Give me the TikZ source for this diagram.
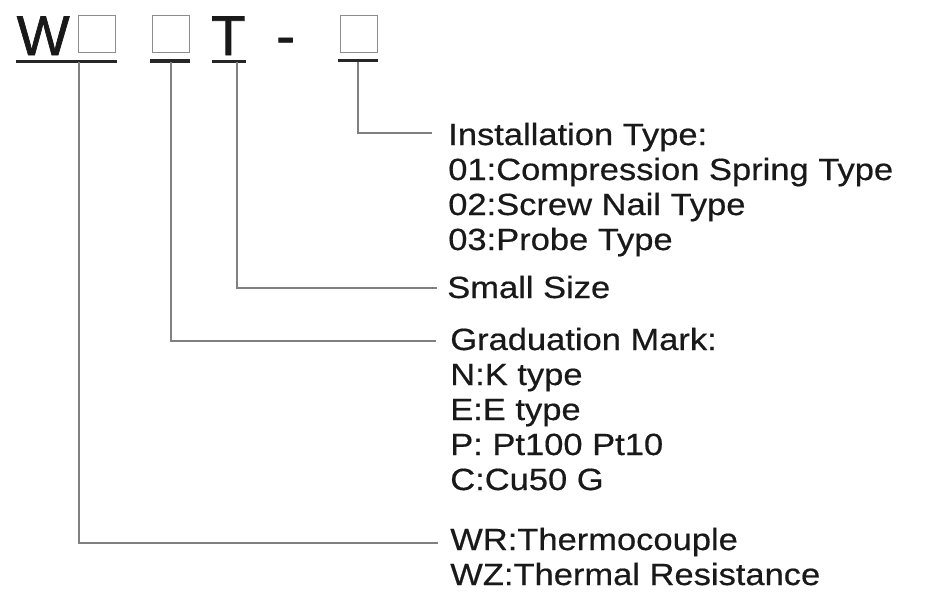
\documentclass[tikz,border=0pt]{standalone}
\usepackage{fontspec}
\setmainfont{Liberation Sans}[FakeStretch=1.125, FakeBold=0.5]
\newfontfamily\headfont{Liberation Sans}[FakeBold=1.2]

\begin{document}
\begin{tikzpicture}[x=0.75pt, y=-0.75pt, every node/.style={inner sep=0pt, anchor=base west, text=black!90, font=\fontsize{23}{26}\selectfont}]
	\useasboundingbox (0,0) rectangle (944,604);
	\tikzset{lead/.style={gray, line width=1.1pt}, uline/.style={black!85, line width=2.3pt}, slot/.style={draw=gray!90, line width=1.1pt, anchor=north west, minimum size=27.5pt}}
	% model code
	\node[font={\headfont\fontsize{42}{44}\selectfont}] (w) at (16.5,55) {W};
	\node[font={\headfont\fontsize{42}{44}\selectfont}] (t) at (211,55) {T};
	\node[font={\headfont\fontsize{42}{44}\selectfont}] (dash) at (276,55) {-};
	\foreach \n/\x in {b1/78, b2/152, b3/340} {\node[slot] (\n) at (\x,15) {};}
	\foreach \a/\b/\y in {16/117/61.5, 150/190/61, 212/246/61.5, 338/378/60.5} {\draw[uline] (\a,\y) -- (\b,\y);}
	\coordinate (u1) at (79,62); \coordinate (u2) at (171,62); \coordinate (u3) at (237,62); \coordinate (u4) at (358,62);
	\coordinate (e1) at (438,543); \coordinate (e2) at (436,341); \coordinate (e3) at (437,288); \coordinate (e4) at (432,133);
	\foreach \i in {1,...,4} {\draw[lead] (u\i) |- (e\i);}
	% explanations
	\foreach \t [count=\k from 0] in {Installation Type:, 01:Compression Spring Type, 02:Screw Nail Type, 03:Probe Type} {\node (inst\k) at (448,145+35*\k) {\t};}
	\node (small) at (447,298) {Small Size};
	\foreach \t [count=\k from 0] in {Graduation Mark:, N:K type, E:E type, P: Pt100 Pt10, C:Cu50 G} {\node (grad\k) at (450,350+35*\k) {\t};}
	\foreach \t [count=\k from 0] in {WR:Thermocouple, WZ:Thermal Resistance} {\node (kind\k) at (450,550+35*\k) {\t};}
\end{tikzpicture}
\end{document}
